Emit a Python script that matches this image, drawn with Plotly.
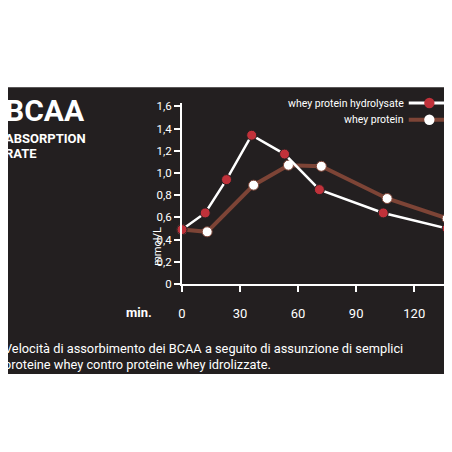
import plotly.graph_objects as go

minutes_hyd = [0, 12, 23, 36, 53, 71, 104, 137]
bcaa_hyd = [0.49, 0.64, 0.94, 1.34, 1.17, 0.85, 0.64, 0.50]
minutes_whey = [0, 13, 37, 55, 72, 106, 137]
bcaa_whey = [0.49, 0.47, 0.89, 1.07, 1.06, 0.77, 0.59]
x_ticks = [0, 30, 60, 90, 120]
y_ticks = [0, 0.2, 0.4, 0.6, 0.8, 1.0, 1.2, 1.4, 1.6]
y_labels = ["0", "0,2", "0,4", "0,6", "0,8", "1,0", "1,2", "1,4", "1,6"]

BG = "#231f20"
RED = "#c0313a"
BROWN = "#7d4436"
FONT = "Liberation Sans Narrow, Roboto, sans-serif"
OFF = 8  # page body margin shifts the figure by 8px

# plot area in reference pixels: x 182..443, y 103..276
def px(x):
    return (x - 182) / 261

def py(y):
    return (276 - y) / 173

fig = go.Figure()
fig.add_trace(go.Scatter(
    x=minutes_whey, y=bcaa_whey, mode="lines+markers",
    line=dict(color=BROWN, width=4),
    marker=dict(color="white", size=10, line=dict(color=BROWN, width=1)),
    cliponaxis=False))
fig.add_trace(go.Scatter(
    x=minutes_hyd, y=bcaa_hyd, mode="lines+markers",
    line=dict(color="white", width=2.5),
    marker=dict(color=RED, size=10, line=dict(color=BG, width=1)),
    cliponaxis=False))

shapes = [dict(type="rect", xref="paper", yref="paper", x0=px(0), x1=px(460),
               y0=py(362), y1=py(88), fillcolor=BG, line_width=0, layer="below")]
# legend
shapes.append(dict(type="line", xref="paper", yref="paper", x0=px(402), x1=px(442),
                   y0=py(103), y1=py(103), line=dict(color="white", width=3)))
shapes.append(dict(type="circle", xref="paper", yref="paper", x0=px(417), x1=px(427),
                   y0=py(108), y1=py(98), fillcolor=RED, line_width=0))
shapes.append(dict(type="line", xref="paper", yref="paper", x0=px(402), x1=px(442),
                   y0=py(119), y1=py(119), line=dict(color=BROWN, width=4)))
shapes.append(dict(type="circle", xref="paper", yref="paper", x0=px(417), x1=px(427),
                   y0=py(124), y1=py(114), fillcolor="white", line_width=0))

def note(text, x, y, size, xanchor="left", bold=False, angle=0):
    return dict(text=f"<b>{text}</b>" if bold else text, xref="paper", yref="paper",
                x=px(x), y=py(y), xanchor=xanchor, yanchor="middle", showarrow=False,
                textangle=angle, font=dict(color="white", size=size, family=FONT))

annotations = [
    note("BCAA", 8, 110, 30, bold=True),
    note("ABSORPTION", 8, 137, 13, bold=True),
    note("RATE", 8, 151, 13, bold=True),
    note("whey protein hydrolysate", 399, 103, 10.5, xanchor="right"),
    note("whey protein", 399, 119, 10.5, xanchor="right"),
    note("min.", 126, 303, 13, bold=True),
    note("mmol/L", 150, 240, 11, angle=-90),
    note("Velocità di assorbimento dei BCAA a seguito di assunzione di semplici", 7, 338, 12.8),
    note("proteine whey contro proteine whey idrolizzate.", 7, 353, 12.8),
]

fig.update_layout(
    width=452 - OFF, height=452 - OFF,
    margin=dict(l=182 - OFF, r=9 - OFF, t=103 - OFF, b=176 - OFF),
    paper_bgcolor="white", plot_bgcolor=BG,
    showlegend=False,
    shapes=shapes, annotations=annotations,
    font=dict(family=FONT, color="white", size=12),
    xaxis=dict(range=[0, 139], tickvals=x_ticks, showgrid=False, zeroline=False,
               showline=True, linecolor="white", linewidth=2, ticks="outside",
               tickcolor="white", ticklen=6, tickwidth=2, ticklabelstandoff=10,
               tickfont=dict(size=13, color="white")),
    yaxis=dict(range=[0, 1.63], tickvals=y_ticks, ticktext=y_labels, showgrid=False,
               zeroline=False, showline=True, linecolor="white", linewidth=2,
               ticks="outside", tickcolor="white", ticklen=6, tickwidth=2,
               tickfont=dict(size=11.5, color="white")),
)

fig.write_html("out.html")
